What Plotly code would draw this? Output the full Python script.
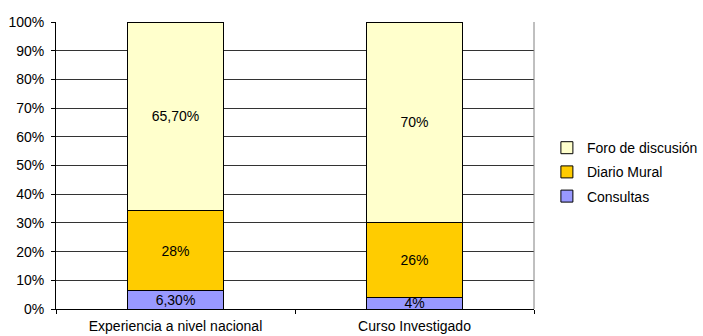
import plotly.graph_objects as go

# Categories and stacked shares (percent)
categories = ["Experiencia a nivel nacional", "Curso Investigado"]
consultas = [6.3, 4]
diario_mural = [28, 26]
foro_discusion = [65.7, 70]

# Labels printed inside each segment
consultas_labels = ["6,30%", "4%"]
diario_labels = ["28%", "26%"]
foro_labels = ["65,70%", "70%"]

FONT = "Liberation Sans, Arial, sans-serif"
FS = 14

series = [
    ("Consultas", consultas, consultas_labels, "#9999FF"),
    ("Diario Mural", diario_mural, diario_labels, "#FFCC00"),
    ("Foro de discusión", foro_discusion, foro_labels, "#FFFFCC"),
]

fig = go.Figure()
for i, (name, vals, labels, color) in enumerate(series):
    fig.add_trace(go.Bar(
        x=categories,
        y=vals,
        name=name,
        legendgroup=name,
        legendrank=100 - i,
        text=labels,
        textposition="inside",
        insidetextanchor="middle",
        textangle=0,
        constraintext="none",
        textfont=dict(color="black", size=FS, family=FONT),
        marker=dict(color=color, line=dict(color="black", width=1)),
        width=0.4,
        hoverinfo="skip",
    ))

fig.update_layout(
    barmode="stack",
    width=703,
    height=336,
    margin=dict(l=56, r=169, t=22, b=27, autoexpand=False),
    paper_bgcolor="white",
    plot_bgcolor="white",
    font=dict(family=FONT, size=FS, color="black"),
    uniformtext=dict(minsize=FS, mode="show"),
    showlegend=True,
    legend=dict(
        x=1.027, y=0.477, xanchor="left", yanchor="middle",
        traceorder="grouped", tracegroupgap=3,
        font=dict(size=FS, family=FONT, color="black"),
        bgcolor="rgba(0,0,0,0)",
    ),
)

fig.update_xaxes(
    range=[-0.5, 1.5],
    showline=True, linecolor="black", linewidth=1,
    ticks="outside", tickson="boundaries", ticklen=4, tickcolor="black",
    showgrid=False,
    tickfont=dict(size=FS, family=FONT, color="black"),
    ticklabelstandoff=4,
)
fig.update_yaxes(
    range=[0, 100], dtick=10, ticksuffix="%",
    showline=True, linecolor="black", linewidth=1,
    ticks="outside", ticklen=4, tickcolor="black",
    showgrid=True, gridcolor="#333333", gridwidth=1,
    zeroline=False,
    tickfont=dict(size=FS, family=FONT, color="black"),
    ticklabelstandoff=4,
)

# Right border of the plotting area
fig.add_shape(type="line", xref="paper", yref="paper",
              x0=1, x1=1, y0=0, y1=1,
              line=dict(color="#808080", width=1))

fig.write_html("out.html")
